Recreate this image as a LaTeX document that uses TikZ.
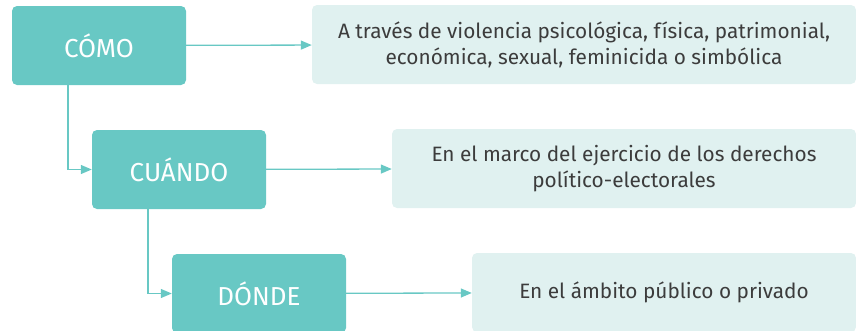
\documentclass[tikz,border=0pt]{standalone}
\usepackage{fontspec}
\setmainfont{Fira Sans}
\usetikzlibrary{arrows.meta}
\definecolor{tealbox}{RGB}{104,200,196}
\definecolor{tealpale}{RGB}{224,241,240}
\definecolor{textgray}{RGB}{60,60,60}
\begin{document}
\begin{tikzpicture}
    [x=1pt,y=-1pt,
     tag/.style={fill=tealbox,rounded corners=5pt,text=white,inner sep=0pt,
       minimum width=174pt,minimum height=79pt,font=\fontsize{26}{30}\selectfont},
     info/.style={fill=tealpale,rounded corners=5pt,text=textgray,inner sep=0pt,
       minimum height=79pt,align=center,font=\fontsize{20.8}{26}\selectfont},
     pre/.style={->,>={Triangle[length=11pt,width=9pt]},draw=tealbox,line width=1.3pt}]
    \useasboundingbox (0,0) rectangle (856,330);
    \node [tag] (como) at (99,45.5) {CÓMO};
    \node [info,minimum width=544pt] (comoinfo) at (584,44.5)
      {A través de violencia psicológica, física, patrimonial,\\económica, sexual, feminicida o simbólica};
    \node [tag] (cuando) at (179,169.5) {CUÁNDO};
    \node [info,minimum width=464pt] (cuandoinfo) at (624,168.5)
      {En el marco del ejercicio de los derechos\\político-electorales};
    \node [tag] (donde) at (259,293.5) {DÓNDE};
    \node [info,minimum width=384pt] (dondeinfo) at (664,292.5)
      {En el ámbito público o privado};
    \draw [pre] (como) -- (comoinfo);
    \draw [pre] (cuando) -- (cuandoinfo);
    \draw [pre] (donde) -- (dondeinfo);
    \draw [pre] ([xshift=-31pt]como.south) |- (cuando);
    \draw [pre] ([xshift=-31pt]cuando.south) |- (donde);
\end{tikzpicture}
\end{document}
